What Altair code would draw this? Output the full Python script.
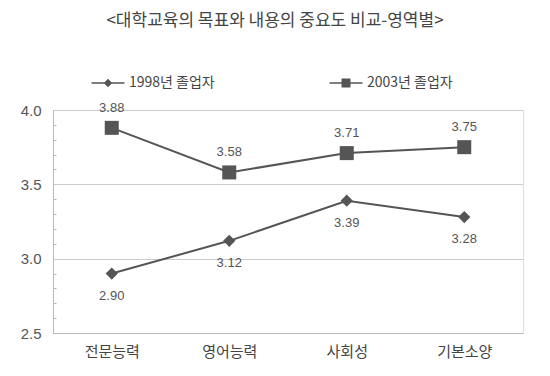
import altair as alt
import pandas as pd

categories = ["전문능력", "영어능력", "사회성", "기본소양"]
series_names = ["1998년 졸업자", "2003년 졸업자"]
v1998 = [2.90, 3.12, 3.39, 3.28]
v2003 = [3.88, 3.58, 3.71, 3.75]
major_ticks = [2.5, 3.0, 3.5, 4.0]
minor_ticks = [2.6, 2.7, 2.8, 2.9, 3.1, 3.2, 3.3, 3.4, 3.6, 3.7, 3.8, 3.9]

rows = []
for c, v in zip(categories, v1998):
    rows.append({"cat": c, "series": series_names[0], "value": v, "label": f"{v:.2f}"})
for c, v in zip(categories, v2003):
    rows.append({"cat": c, "series": series_names[1], "value": v, "label": f"{v:.2f}"})
df = pd.DataFrame(rows)

FONT = "Noto Sans CJK KR"
GRAY = "#555555"

# legend symbols: a short line (thin filled bar) with the marker in the middle
legend_diamond = "M-3.3,-0.15H3.3V0.15H-3.3Z M0,-0.85L0.85,0L0,0.85L-0.85,0Z"
legend_square = "M-3.3,-0.15H3.3V0.15H-3.3Z M-0.9,-0.9H0.9V0.9H-0.9Z"

legend_def = alt.Legend(title=None, orient="none", direction="horizontal",
                        legendX=48, legendY=-34, symbolSize=100,
                        symbolStrokeWidth=0, symbolFillColor=GRAY, symbolOpacity=1,
                        labelFont=FONT, labelFontSize=14, labelColor="#444444",
                        labelOffset=14, columnPadding=114)

x_enc = alt.X("cat:N", sort=categories,
              scale=alt.Scale(type="point", padding=0.5),
              axis=alt.Axis(title=None, ticks=False, domain=True, domainColor="#bbbbbb",
                            labelFont=FONT, labelFontSize=15, labelColor="#444444",
                            labelPadding=11, labelAngle=0))
y_scale = alt.Scale(domain=[2.5, 4.0])

base = alt.Chart(df)

legend_layer = base.transform_filter("false").mark_point(
    filled=True, color=GRAY, strokeWidth=0, opacity=1, size=100).encode(
    x=x_enc,
    y=alt.Y("value:Q", scale=y_scale, axis=None),
    shape=alt.Shape("series:N",
                    scale=alt.Scale(domain=series_names, range=[legend_diamond, legend_square]),
                    legend=legend_def),
)

lines = base.mark_line(color=GRAY, strokeWidth=2).encode(
    x=x_enc,
    y=alt.Y("value:Q", scale=y_scale,
            axis=alt.Axis(title=None, values=major_ticks, format=".1f", grid=True,
                          gridColor="#cccccc", ticks=False, domainColor="#bbbbbb",
                          labelFont="Liberation Sans", labelFontSize=15, labelColor="#555555",
                          labelPadding=12)),
    detail="series:N",
)

points = base.mark_point(filled=True, color=GRAY, opacity=1, strokeWidth=0).encode(
    x=x_enc,
    y=alt.Y("value:Q", scale=y_scale,
            axis=alt.Axis(title=None, orient="left", values=minor_ticks, labels=False,
                          domain=False, grid=False, tickSize=3, offset=-3,
                          tickColor="#bbbbbb")),
    shape=alt.Shape("series:N",
                    scale=alt.Scale(domain=series_names, range=["diamond", "square"]),
                    legend=None),
    size=alt.Size("series:N",
                  scale=alt.Scale(domain=series_names, range=[150, 196]),
                  legend=None),
)

labels_top = base.transform_filter(alt.datum.series == series_names[1]).mark_text(
    dy=-20, font="Liberation Sans", fontSize=13, color="#555555").encode(
    x=x_enc, y=alt.Y("value:Q", scale=y_scale, axis=None), text="label:N")

labels_bottom = base.transform_filter(alt.datum.series == series_names[0]).mark_text(
    dy=22, font="Liberation Sans", fontSize=13, color="#555555").encode(
    x=x_enc, y=alt.Y("value:Q", scale=y_scale, axis=None), text="label:N")

chart = alt.layer(legend_layer, lines, points, labels_top, labels_bottom).resolve_axis(
    y="independent").resolve_scale(y="shared", shape="independent").properties(
    width=470, height=223,
    padding={"left": 53, "top": 110, "right": 27, "bottom": 43},
    autosize=alt.AutoSizeParams(type="none"),
    title=alt.TitleParams("<대학교육의 목표와 내용의 중요도 비교-영역별>", font=FONT,
                          fontSize=17, fontWeight="normal", color="#444444",
                          offset=46, dx=-13, anchor="middle"),
).configure_view(stroke=None).configure(background="white")

chart.save("out.html", embed_options={"renderer": "svg", "actions": False})
